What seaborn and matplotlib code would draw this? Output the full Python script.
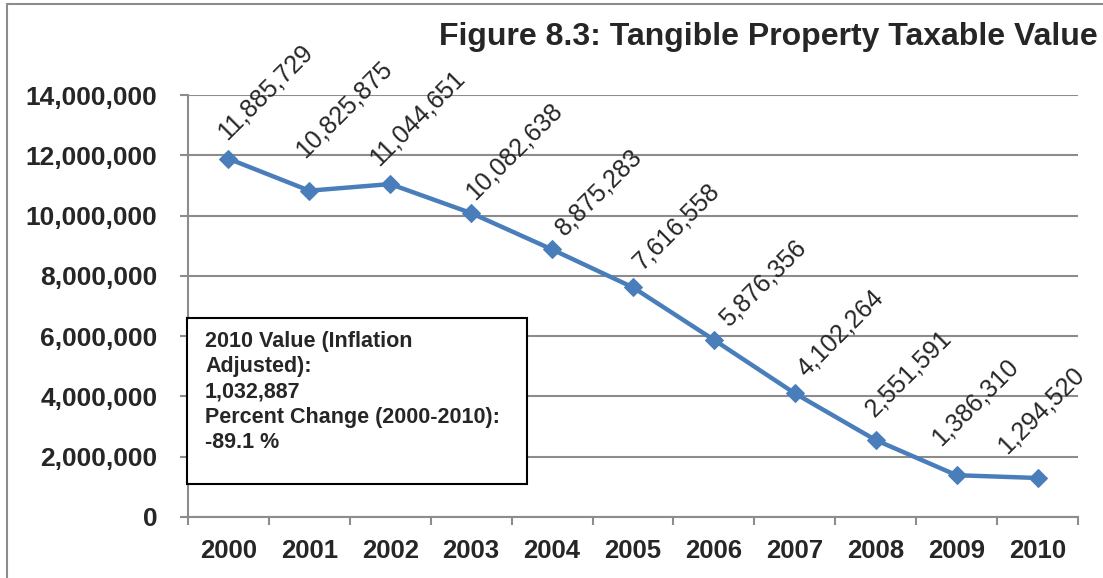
import numpy as np
import pandas as pd
import matplotlib
matplotlib.use("Agg")
import matplotlib.pyplot as plt
import matplotlib.ticker as mticker
from matplotlib.patches import Rectangle
from matplotlib.lines import Line2D
import seaborn as sns

years = ['2000', '2001', '2002', '2003', '2004', '2005', '2006', '2007', '2008', '2009', '2010']
values = [11885729, 10825875, 11044651, 10082638, 8875283, 7616558,
          5876356, 4102264, 2551591, 1386310, 1294520]
title = "Figure 8.3: Tangible Property Taxable Value"
box_text = "2010 Value (Inflation\nAdjusted):\n1,032,887\nPercent Change (2000-2010):\n-89.1 %"

# manual nudges of the rotated data labels (pixels, like the hand-placed Excel labels)
label_dx = [-2, -5, -12, 3, 12, 9, 15, 11, -1, -16, -31]
label_dy = [18, 32, 18, 13, 13, 17, 12, 16, 23, 29, 23]

line_color = '#4A7EBB'
gray = '#8C8C8C'

sns.set_style('white')
plt.rcParams['font.family'] = ['Liberation Sans', 'DejaVu Sans']

W, H = 1103, 578
fig = plt.figure(figsize=(W / 100, H / 100), dpi=100)
ax = fig.add_axes([188 / W, 61 / H, 890 / W, 422 / H])

df = pd.DataFrame({'year': years, 'value': values})
sns.lineplot(data=df, x='year', y='value', ax=ax, color=line_color, lw=3.2,
             marker='D', markersize=9, markeredgecolor=line_color, zorder=3)

ax.set_xlim(-0.5, 10.5)
ax.set_ylim(0, 14e6)
ax.set_xlabel('')
ax.set_ylabel('')

# year labels centred on categories, tick marks between them
ax.set_xticks(range(len(years)))
ax.set_xticklabels(years, fontsize=18.5, fontweight='bold')
ax.set_xticks(np.arange(-0.5, len(years)), minor=True)
ax.tick_params(axis='x', which='major', length=0, pad=16)
ax.tick_params(axis='x', which='minor', length=6, width=1.5, color=gray, direction='out', bottom=True)

ax.set_yticks(np.arange(0, 14e6 + 1, 2e6))
ax.yaxis.set_major_formatter(mticker.StrMethodFormatter('{x:,.0f}'))
ax.tick_params(axis='y', length=6, width=1.5, color=gray, direction='out', pad=16, left=True)
for lbl in ax.get_yticklabels():
    lbl.set_fontsize(19)
    lbl.set_fontweight('bold')

ax.yaxis.grid(True, color=gray, lw=1.5)
ax.set_axisbelow(True)
for s in ['top', 'right']:
    ax.spines[s].set_visible(False)
for s in ['left', 'bottom']:
    ax.spines[s].set_color(gray)
    ax.spines[s].set_linewidth(1.5)

# rotated data labels
for i, v in enumerate(values):
    ax.annotate(f'{v:,}', (i, v), xytext=(label_dx[i], label_dy[i]), textcoords='offset pixels',
                rotation=45, rotation_mode='anchor', ha='left', va='baseline',
                fontsize=18, zorder=4)

fig.text(1098 / W, 1 - 37 / H, title, ha='right', va='center',
         fontsize=23, fontweight='bold')

# info box
fig.add_artist(Rectangle((187 / W, 94 / H), 340 / W, 166 / H, transform=fig.transFigure,
                         facecolor='white', edgecolor='black', lw=1.5, zorder=5))
fig.text(205 / W, 1 - 331 / H, box_text, ha='left', va='top', fontsize=15.5,
         fontweight='bold', linespacing=1.27, zorder=6)

# outer chart border
fig.add_artist(Line2D([7 / W, 7 / W], [0, 1 - 4 / H], transform=fig.transFigure, color=gray, lw=1.5))
fig.add_artist(Line2D([7 / W, 1], [1 - 4 / H, 1 - 4 / H], transform=fig.transFigure, color=gray, lw=1.5))

fig.savefig('out.png', dpi=100)
